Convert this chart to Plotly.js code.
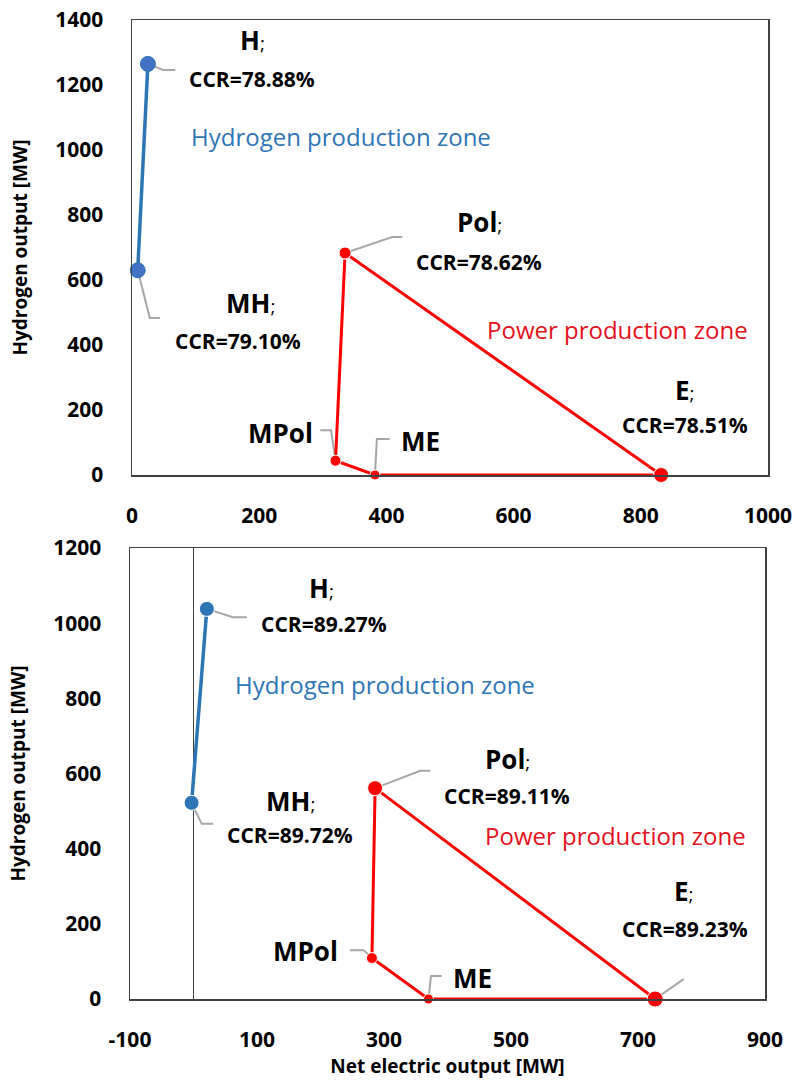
<!DOCTYPE html>
<html>
<head>
<meta charset="utf-8">
<script src="https://cdn.plot.ly/plotly-3.0.1.min.js"></script>
<style>html,body{margin:0;padding:0;background:#fff;}#chart{width:794px;height:1080px;}</style>
</head>
<body>
<div id="chart"></div>
<script>
// ---- Data ----
// Top chart (case 1)
const topH_names = ['MH', 'H'];
const topH_x = [9, 25];
const topH_y = [630, 1265];
const topP_names = ['Pol', 'MPol', 'ME', 'E'];
const topP_x = [335, 320, 382, 832];
const topP_y = [683, 44, 0, 0];
const topCCR = {H: '78.88%', MH: '79.10%', Pol: '78.62%', E: '78.51%'};

// Bottom chart (case 2)
const botH_names = ['MH', 'H'];
const botH_x = [-3, 21];
const botH_y = [522, 1038];
const botP_names = ['Pol', 'MPol', 'ME', 'E'];
const botP_x = [286, 281, 370, 727];
const botP_y = [561, 109, 0, 0];
const botCCR = {H: '89.27%', MH: '89.72%', Pol: '89.11%', E: '89.23%'};

const topXTicks = [0, 200, 400, 600, 800, 1000];
const topYTicks = [0, 200, 400, 600, 800, 1000, 1200, 1400];
const botXTicks = [-100, 100, 300, 500, 700, 900];
const botYTicks = [0, 200, 400, 600, 800, 1000, 1200];

const xTitle = 'Net electric output [MW]';
const yTitle = 'Hydrogen output [MW]';
const zoneH = 'Hydrogen production zone';
const zoneP = 'Power production zone';

// ---- Styles ----
const FONT = 'Open Sans, Noto Sans, sans-serif';
const BLUE_LINE = '#2E75B6';
const BLUE_MK_TOP = '#4472C4';
const BLUE_MK_BOT = '#2E75B6';
const RED = '#FF0000';
const REDTXT = '#E3111B';
const BLUETXT = '#2E75B6';
const GREY = '#A6A6A6';
const sizeH = [15, 15];
const sizePTop = [12, 11, 10, 15];
const sizePBot = [15, 11, 10, 16];

function close(a) { return a.concat([a[0]]); }

const traces = [
  {x: topH_x, y: topH_y, xaxis: 'x', yaxis: 'y', mode: 'lines+markers', type: 'scatter', cliponaxis: false,
   line: {color: BLUE_LINE, width: 3.5}, marker: {color: BLUE_MK_TOP, size: sizeH, opacity: 1}, text: topH_names, hoverinfo: 'text+x+y'},
  {x: close(topP_x), y: close(topP_y), xaxis: 'x', yaxis: 'y', mode: 'lines+markers', type: 'scatter', cliponaxis: false,
   line: {color: RED, width: 3}, marker: {color: RED, size: close(sizePTop), opacity: 1}, text: close(topP_names), hoverinfo: 'text+x+y'},
  {x: botH_x, y: botH_y, xaxis: 'x2', yaxis: 'y2', mode: 'lines+markers', type: 'scatter', cliponaxis: false,
   line: {color: BLUE_LINE, width: 3.5}, marker: {color: BLUE_MK_BOT, size: sizeH, opacity: 1}, text: botH_names, hoverinfo: 'text+x+y'},
  {x: close(botP_x), y: close(botP_y), xaxis: 'x2', yaxis: 'y2', mode: 'lines+markers', type: 'scatter', cliponaxis: false,
   line: {color: RED, width: 3}, marker: {color: RED, size: close(sizePBot), opacity: 1}, text: close(botP_names), hoverinfo: 'text+x+y'}
];

function pt(names, xs, ys, n) { const i = names.indexOf(n); return [xs[i], ys[i]]; }

// label layout positions (data units of each subplot)
const topLabelPos = {
  H: {name: [190, 1338], ccr: [188, 1218]},
  MH: {name: [186, 529], ccr: [167, 412]},
  Pol: {name: [546, 778], ccr: [546, 655]},
  E: {name: [869, 262], ccr: [869, 154]},
  MPol: {name: [233, 129]},
  ME: {name: [453, 105]},
  zoneH: [329, 1040], zoneP: [764, 449]
};
const botLabelPos = {
  H: {name: [202, 1094], ccr: [205, 998]},
  MH: {name: [152, 527], ccr: [152, 436]},
  Pol: {name: [494, 639], ccr: [494, 540]},
  E: {name: [772, 287], ccr: [774, 186]},
  MPol: {name: [176, 128]},
  ME: {name: [440, 56]},
  zoneH: [302, 838], zoneP: [665, 434]
};
// leader line bends (data units), starting from the point itself
const topLeaders = {
  H: [[49, 1246], [68, 1246]],
  MH: [[28, 483], [44, 483]],
  Pol: [[409, 732], [425, 732]],
  MPol: [[313, 138], [296, 138]],
  ME: [[385, 111], [405, 111]]
};
const botLeaders = {
  H: [[62, 1016], [84, 1016]],
  MH: [[13, 466], [31, 466]],
  Pol: [[357, 607], [373, 607]],
  MPol: [[268, 130], [246, 130]],
  ME: [[374, 61], [391, 61]],
  E: [[772, 53]]
};

const annotations = [];
const shapes = [];

function addLabels(pos, ccr, xr, yr) {
  const semi = '<span style="font-size:19px;font-weight:normal">;</span>';
  ['H', 'MH', 'Pol', 'E'].forEach(k => {
    annotations.push({xref: xr, yref: yr, x: pos[k].name[0], y: pos[k].name[1], showarrow: false,
      text: '<b>' + k + '</b>' + semi, font: {family: FONT, size: 26, color: '#000'}});
    annotations.push({xref: xr, yref: yr, x: pos[k].ccr[0], y: pos[k].ccr[1], showarrow: false,
      text: '<b>CCR=' + ccr[k] + '</b>', font: {family: FONT, size: 21, color: '#000'}});
  });
  ['MPol', 'ME'].forEach(k => {
    annotations.push({xref: xr, yref: yr, x: pos[k].name[0], y: pos[k].name[1], showarrow: false,
      text: '<b>' + k + '</b>', font: {family: FONT, size: 26, color: '#000'}});
  });
  annotations.push({xref: xr, yref: yr, x: pos.zoneH[0], y: pos.zoneH[1], showarrow: false,
    text: zoneH, font: {family: FONT, size: 24, color: BLUETXT}});
  annotations.push({xref: xr, yref: yr, x: pos.zoneP[0], y: pos.zoneP[1], showarrow: false,
    text: zoneP, font: {family: FONT, size: 24, color: REDTXT}});
}
function addLeaders(leaders, hn, hx, hy, pn, px, py, xr, yr) {
  Object.keys(leaders).forEach(k => {
    let p = hn.indexOf(k) >= 0 ? pt(hn, hx, hy, k) : pt(pn, px, py, k);
    let path = 'M ' + p[0] + ',' + p[1];
    leaders[k].forEach(q => { path += ' L ' + q[0] + ',' + q[1]; });
    shapes.push({type: 'path', xref: xr, yref: yr, path: path, line: {color: GREY, width: 2}, layer: 'below'});
  });
}
addLabels(topLabelPos, topCCR, 'x', 'y');
addLabels(botLabelPos, botCCR, 'x2', 'y2');
addLeaders(topLeaders, topH_names, topH_x, topH_y, topP_names, topP_x, topP_y, 'x', 'y');
addLeaders(botLeaders, botH_names, botH_x, botH_y, botP_names, botP_x, botP_y, 'x2', 'y2');

const tickFont = {family: FONT, size: 21, color: '#000', weight: 'bold'};
const titleFont = {family: FONT, size: 19, color: '#000', weight: 'bold'};
const axBase = {showgrid: false, zeroline: false, showline: true, mirror: true, linecolor: '#404040', linewidth: 1.5,
  ticks: '', tickfont: tickFont, tickmode: 'array', fixedrange: true};

const layout = {
  width: 794, height: 1080, margin: {l: 0, r: 0, t: 0, b: 0},
  paper_bgcolor: '#fff', plot_bgcolor: '#fff', showlegend: false,
  xaxis: Object.assign({}, axBase, {domain: [132/794, 768/794], anchor: 'y', range: [0, 1000],
    tickvals: topXTicks, ticktext: topXTicks.map(String), ticklabelstandoff: 21}),
  yaxis: Object.assign({}, axBase, {domain: [1 - 475/1080, 1 - 20/1080], anchor: 'x', range: [0, 1400],
    tickvals: topYTicks, ticktext: topYTicks.map(String), ticklabelstandoff: 23,
    title: {text: yTitle, font: titleFont, standoff: 22}}),
  xaxis2: Object.assign({}, axBase, {domain: [130/794, 765/794], anchor: 'y2', range: [-100, 900],
    tickvals: botXTicks, ticktext: botXTicks.map(String), ticklabelstandoff: 21,
    zeroline: true, zerolinecolor: '#404040', zerolinewidth: 1.2,
    title: {text: xTitle, font: titleFont, standoff: 6}}),
  yaxis2: Object.assign({}, axBase, {domain: [1 - 999/1080, 1 - 548/1080], anchor: 'x2', range: [0, 1200],
    tickvals: botYTicks, ticktext: botYTicks.map(String), ticklabelstandoff: 23,
    title: {text: yTitle, font: titleFont, standoff: 22}}),
  annotations: annotations,
  shapes: shapes
};

Plotly.newPlot('chart', traces, layout, {displayModeBar: false, staticPlot: true});
</script>
</body>
</html>
